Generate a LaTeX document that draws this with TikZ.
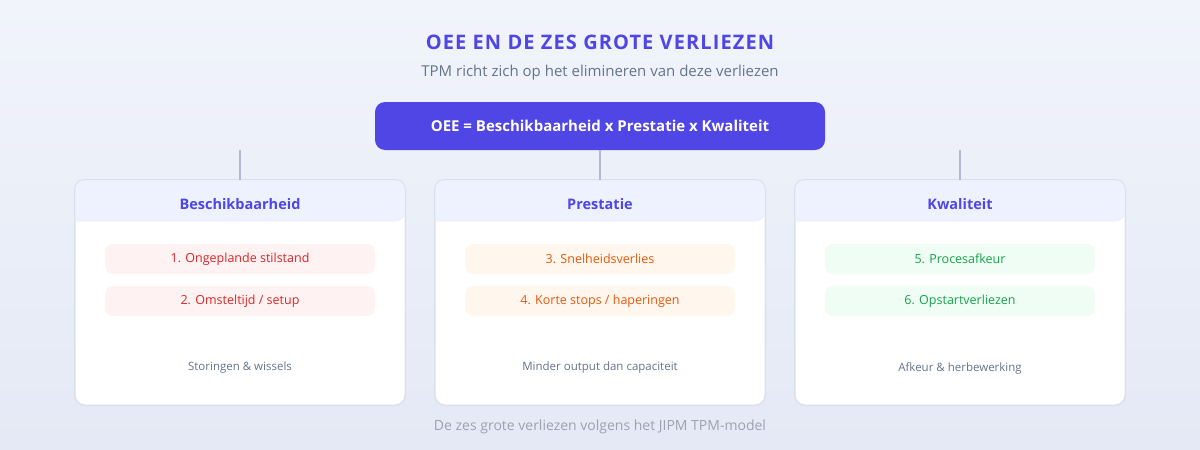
\documentclass[tikz,border=0pt]{standalone}
\usepackage{fontspec}
\setmainfont{Open Sans}
\newfontfamily\spacedfont[LetterSpace=5.5]{Open Sans}
\usetikzlibrary{positioning}

\definecolor{indigo}{HTML}{4F46E5}
\definecolor{hdrfill}{HTML}{EEF2FF}
\definecolor{cardline}{HTML}{DCE0EE}
\definecolor{linkline}{HTML}{B3B8D6}
\definecolor{slate}{HTML}{64748B}
\definecolor{faint}{HTML}{9AA2B4}
\definecolor{redfill}{HTML}{FEF2F2}
\definecolor{redtext}{HTML}{DC2626}
\definecolor{orgfill}{HTML}{FFF7ED}
\definecolor{orgtext}{HTML}{EA580C}
\definecolor{grnfill}{HTML}{F0FDF4}
\definecolor{grntext}{HTML}{16A34A}
\definecolor{bgtop}{HTML}{F1F4FB}
\definecolor{bgbot}{HTML}{E4E9F5}

\begin{document}
\begin{tikzpicture}[x=1pt,y=-1pt,
    card/.style={draw=cardline, line width=1pt, fill=white, rounded corners=10pt,
        minimum width=330pt, minimum height=225pt, inner sep=0pt},
    cardtitle/.style={text=indigo, font=\fontsize{14.5}{18}\selectfont\bfseries},
    pill/.style={rounded corners=8pt, minimum width=270pt, minimum height=30pt,
        inner sep=0pt, font=\fontsize{12.5}{15}\selectfont},
    redpill/.style={pill, fill=redfill, text=redtext},
    orgpill/.style={pill, fill=orgfill, text=orgtext},
    grnpill/.style={pill, fill=grnfill, text=grntext},
    note/.style={text=slate, font=\fontsize{11.5}{14}\selectfont},
    link/.style={draw=linkline, line width=2pt}]
    \useasboundingbox (0,0) rectangle (1200,450);
    \shade[top color=bgtop, bottom color=bgbot] (0,0) rectangle (1200,450);

    % heading
    \node[text=indigo, font=\spacedfont\fontsize{20}{24}\selectfont\bfseries] (title) at (600,42) {OEE EN DE ZES GROTE VERLIEZEN};
    \node[text=slate, font=\fontsize{15}{18}\selectfont] (subtitle) at (600,73) {TPM richt zich op het elimineren van deze verliezen};
    \node[fill=indigo, rounded corners=10pt, minimum width=450pt, minimum height=48pt, inner sep=0pt,
        text=white, font=\fontsize{15}{19}\selectfont\bfseries] (formula) at (600,126) {OEE = Beschikbaarheid x Prestatie x Kwaliteit};

    % cards
    \node[card] (avail) at (240,292.5) {};
    \node[card] (perf) at (600,292.5) {};
    \node[card] (qual) at (960,292.5) {};
    \foreach \c in {avail,perf,qual}{
        \fill[hdrfill, rounded corners=10pt] ([yshift=-42pt]\c.north west) -- (\c.north west) -- (\c.north east) -- ([yshift=-42pt]\c.north east) [sharp corners] -- cycle;
        \draw[cardline, line width=1pt, rounded corners=10pt] (\c.north west) rectangle (\c.south east);
    }

    \draw[link] (avail.north |- formula.south) -- (avail.north);
    \draw[link] (formula.south) -- (perf.north);
    \draw[link] (qual.north |- formula.south) -- (qual.north);

    % Beschikbaarheid
    \node[cardtitle] (availtitle) at (240,204) {Beschikbaarheid};
    \node[redpill] (loss1) at (240,259) {1. Ongeplande stilstand};
    \node[redpill] (loss2) at (240,301) {2. Omsteltijd / setup};
    \node[note] (availnote) at (240,368) {Storingen \& wissels};

    % Prestatie
    \node[cardtitle] (perftitle) at (600,204) {Prestatie};
    \node[orgpill] (loss3) at (600,259) {3. Snelheidsverlies};
    \node[orgpill] (loss4) at (600,301) {4. Korte stops / haperingen};
    \node[note] (perfnote) at (600,368) {Minder output dan capaciteit};

    % Kwaliteit
    \node[cardtitle] (qualtitle) at (960,204) {Kwaliteit};
    \node[grnpill] (loss5) at (960,259) {5. Procesafkeur};
    \node[grnpill] (loss6) at (960,301) {6. Opstartverliezen};
    \node[note] (qualnote) at (960,368) {Afkeur \& herbewerking};

    \node[text=faint, font=\fontsize{14}{17}\selectfont] (caption) at (600,427) {De zes grote verliezen volgens het JIPM TPM-model};
\end{tikzpicture}
\end{document}
